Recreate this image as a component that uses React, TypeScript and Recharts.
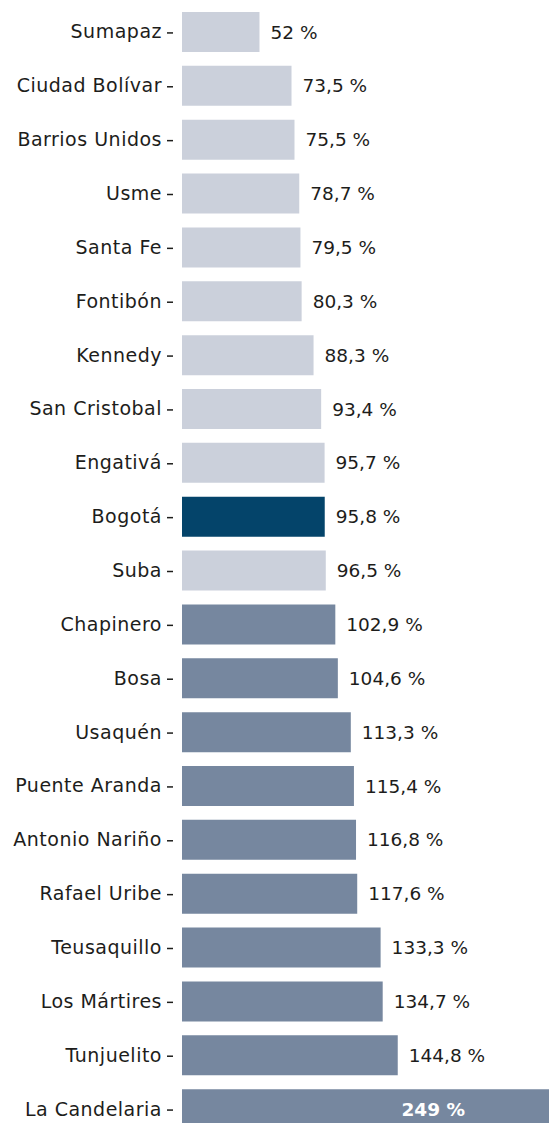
import { Bar, BarChart, Cell, LabelList, XAxis, YAxis } from "recharts";

const localidades = [
  "Sumapaz", "Ciudad Bolívar", "Barrios Unidos", "Usme", "Santa Fe", "Fontibón", "Kennedy",
  "San Cristobal", "Engativá", "Bogotá", "Suba", "Chapinero", "Bosa", "Usaquén", "Puente Aranda",
  "Antonio Nariño", "Rafael Uribe", "Teusaquillo", "Los Mártires", "Tunjuelito", "La Candelaria",
];
const valores = [
  52, 73.5, 75.5, 78.7, 79.5, 80.3, 88.3, 93.4, 95.7, 95.8, 96.5, 102.9, 104.6, 113.3, 115.4,
  116.8, 117.6, 133.3, 134.7, 144.8, 249,
];

const data = localidades.map((name, i) => ({ name, value: valores[i] }));

const LIGHT = "#cbd0db";
const MID = "#76879f";
const DARK = "#04446a";
const INK = "#1d1d1b";
const FONT = "'DejaVu Sans', sans-serif";

const fmt = (v: number) => `${String(v).replace(".", ",")} %`;

function CategoryTick(props: any) {
  const { x, y, payload } = props;
  return (
    <g>
      <text x={x - 12} y={y} dy={6.5} textAnchor="end" fontFamily={FONT} fontSize={19} letterSpacing={0.5} fill={INK}>
        {payload.value}
      </text>
      <line x1={x - 7} x2={x - 1} y1={y + 1} y2={y + 1} stroke={INK} strokeWidth={1.5} />
    </g>
  );
}

function ValueLabel(props: any) {
  const { x, y, width, height, value } = props;
  const max = Math.max(...valores);
  if (value === max) {
    return (
      <text x={x + width - 88} y={y + height / 2} dy={6.5} textAnchor="end" fontFamily={FONT} fontSize={18.5} fontWeight={700} fill="#ffffff">
        {fmt(value)}
      </text>
    );
  }
  return (
    <text x={x + width + 11} y={y + height / 2} dy={6.5} textAnchor="start" fontFamily={FONT} fontSize={18.5} fill={INK}>
      {fmt(value)}
    </text>
  );
}

export default function App() {
  return (
    <div style={{ position: "absolute", top: 0, left: 0, width: 549, height: 1123, overflow: "hidden", background: "#fff" }}>
      <BarChart
        width={560}
        height={1140}
        data={data}
        layout="vertical"
        margin={{ top: 5, right: 7, left: 0, bottom: 4 }}
        barCategoryGap={14}
      >
        <XAxis type="number" domain={[0, 249]} hide />
        <YAxis
          type="category"
          dataKey="name"
          width={182}
          axisLine={false}
          tickLine={false}
          tick={<CategoryTick />}
          interval={0}
        />
        <Bar dataKey="value" barSize={40} isAnimationActive={false}>
          {data.map((d) => (
            <Cell key={d.name} fill={d.name === "Bogotá" ? DARK : d.value > 100 ? MID : LIGHT} />
          ))}
          <LabelList dataKey="value" content={<ValueLabel />} />
        </Bar>
      </BarChart>
    </div>
  );
}
